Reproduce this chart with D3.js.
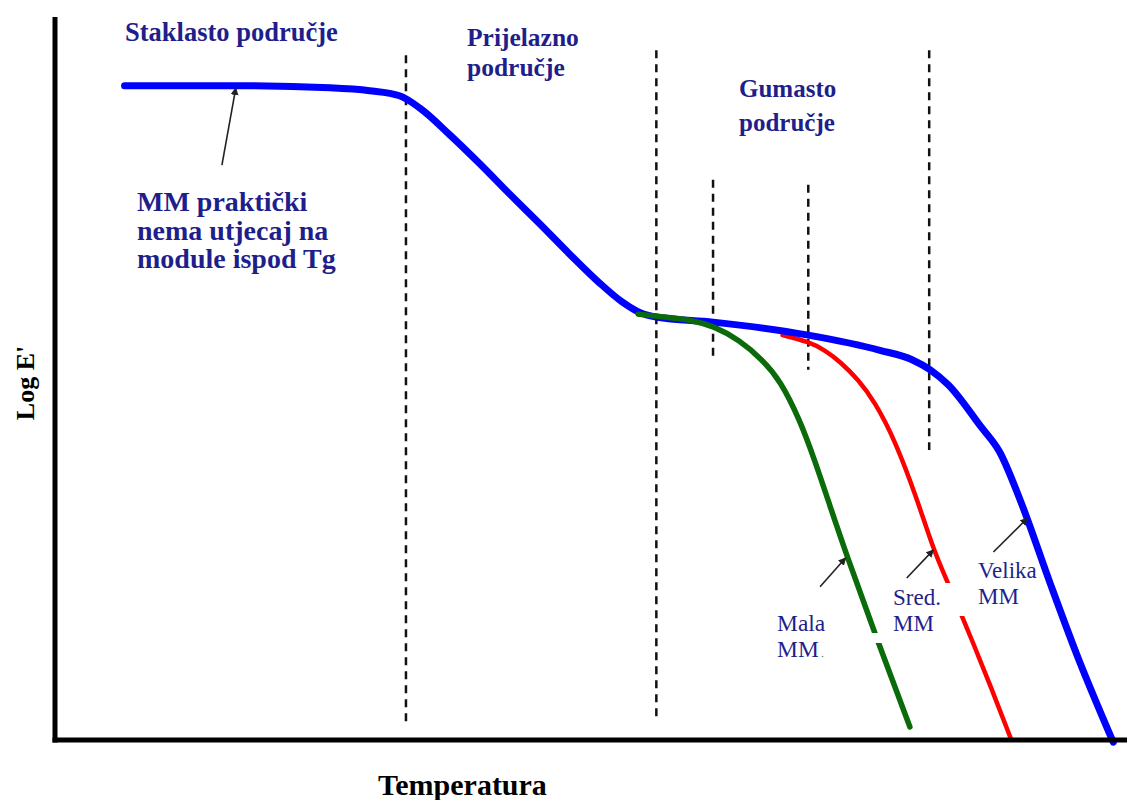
<!DOCTYPE html>
<html>
<head>
<meta charset="utf-8">
<script src="https://cdn.jsdelivr.net/npm/d3@7"></script>
<style>
  html, body { margin: 0; padding: 0; background: #fff; }
  svg { display: block; }
  text { font-family: "Liberation Serif", "Times New Roman", serif; }
</style>
</head>
<body>
<svg class="stage" width="1127" height="800"></svg>
<script>
(function () {
  // curves: [temperature, log E'] in arbitrary units 0..10
  var velikaMM = [
    [0.65, 9.05], [1.68, 9.05], [2.57, 9.02], [2.94, 8.98], [3.22, 8.91],
    [3.41, 8.74], [3.69, 8.37], [3.97, 7.97], [4.25, 7.55], [4.53, 7.14],
    [4.81, 6.72], [5.09, 6.32], [5.30, 6.06], [5.47, 5.91], [5.62, 5.85],
    [6.15, 5.78], [7.04, 5.60], [7.71, 5.39], [8.01, 5.26], [8.18, 5.12],
    [8.35, 4.91], [8.65, 4.34], [8.83, 3.98], [9.02, 3.32], [9.30, 2.17],
    [9.55, 1.18], [9.89, -0.03]
  ];
  var srednjaMM = [
    [6.80, 5.60], [7.04, 5.51], [7.20, 5.39], [7.34, 5.23], [7.51, 4.98],
    [7.66, 4.68], [7.85, 4.15], [8.06, 3.32], [8.21, 2.63], [8.34, 2.19],
    [8.46, 1.77], [8.57, 1.38], [8.74, 0.76], [8.93, 0.03]
  ];
  var malaMM = [
    [5.45, 5.89], [5.70, 5.85], [5.94, 5.81], [6.15, 5.73], [6.40, 5.53],
    [6.61, 5.26], [6.78, 4.97], [6.96, 4.43], [7.10, 3.87], [7.24, 3.25],
    [7.39, 2.59], [7.67, 1.44], [7.99, 0.18]
  ];

  // dashed region boundaries: temperature, top and bottom
  var boundaryT = [3.28, 5.62, 6.15, 7.04, 8.17];
  var boundaryTop = [9.47, 9.54, 7.75, 7.68, 9.54];
  var boundaryBottom = [0.25, 0.28, 5.23, 5.12, 4.01];

  var svg = d3.select('svg.stage');

  var x = d3.scaleLinear().domain([0, 10]).range([55, 1125]);
  var y = d3.scaleLinear().domain([0, 10]).range([740, 17]);

  var navy = '#1f1f8c';

  var line = d3.line()
    .x(function (d) { return x(d[0]); })
    .y(function (d) { return y(d[1]); })
    .curve(d3.curveMonotoneX);

  var smoothLine = d3.line()
    .x(function (d) { return x(d[0]); })
    .y(function (d) { return y(d[1]); })
    .curve(d3.curveBasis);

  // boundaries
  svg.append('g')
    .selectAll('line')
    .data(boundaryT)
    .enter().append('line')
    .attr('x1', function (d) { return x(d); })
    .attr('x2', function (d) { return x(d); })
    .attr('y1', function (d, i) { return y(boundaryTop[i]); })
    .attr('y2', function (d, i) { return y(boundaryBottom[i]); })
    .attr('stroke', '#111')
    .attr('stroke-width', 2.5)
    .attr('stroke-dasharray', '8,6');

  // curves (red under blue, green on top)
  svg.append('path')
    .datum(srednjaMM)
    .attr('d', smoothLine)
    .attr('fill', 'none')
    .attr('stroke', '#ff0000')
    .attr('stroke-width', 4.5)
    .attr('stroke-linecap', 'round');

  svg.append('path')
    .datum(velikaMM)
    .attr('d', line)
    .attr('fill', 'none')
    .attr('stroke', '#0000ff')
    .attr('stroke-width', 7)
    .attr('stroke-linecap', 'round')
    .attr('stroke-linejoin', 'round');

  svg.append('path')
    .datum(malaMM)
    .attr('d', smoothLine)
    .attr('fill', 'none')
    .attr('stroke', '#0b6b0b')
    .attr('stroke-width', 5.5)
    .attr('stroke-linecap', 'round');

  // white text boxes that cut the curves
  svg.append('rect').attr('x', 866).attr('y', 633).attr('width', 18).attr('height', 10).attr('fill', '#fff');
  svg.append('rect').attr('x', 940).attr('y', 583).attr('width', 34).attr('height', 33).attr('fill', '#fff');

  // axes
  svg.append('line')
    .attr('x1', x(0)).attr('x2', x(0))
    .attr('y1', y(10)).attr('y2', y(0) + 2.5)
    .attr('stroke', '#000').attr('stroke-width', 5);
  svg.append('line')
    .attr('x1', x(0) - 2.5).attr('x2', 1127)
    .attr('y1', y(0)).attr('y2', y(0))
    .attr('stroke', '#000').attr('stroke-width', 5);

  // arrows
  svg.append('defs').append('marker')
    .attr('id', 'head')
    .attr('viewBox', '0 0 10 10')
    .attr('refX', 9).attr('refY', 5)
    .attr('markerWidth', 8).attr('markerHeight', 8)
    .attr('markerUnits', 'userSpaceOnUse')
    .attr('orient', 'auto')
    .append('path')
    .attr('d', 'M0,0L10,5L0,10z')
    .attr('fill', '#222');

  var arrows = [
    [[1.56, 7.95], [1.69, 9.02]],
    [[7.15, 2.12], [7.39, 2.52]],
    [[7.96, 2.24], [8.21, 2.63]],
    [[8.77, 2.60], [9.09, 3.07]]
  ];
  svg.append('g')
    .selectAll('line')
    .data(arrows)
    .enter().append('line')
    .attr('x1', function (d) { return x(d[0][0]); })
    .attr('y1', function (d) { return y(d[0][1]); })
    .attr('x2', function (d) { return x(d[1][0]); })
    .attr('y2', function (d) { return y(d[1][1]); })
    .attr('stroke', '#222')
    .attr('stroke-width', 1.6)
    .attr('marker-end', 'url(#head)');

  // labels
  function label(lines, px, py, size, weight, color, lead) {
    var t = svg.append('text')
      .attr('x', px).attr('y', py)
      .attr('font-size', size)
      .attr('font-weight', weight)
      .attr('fill', color);
    lines.forEach(function (s, i) {
      t.append('tspan').attr('x', px).attr('dy', i ? lead : 0).text(s);
    });
    return t;
  }

  label(['Staklasto područje'], 125, 41, 26.5, 'bold', navy, 0);
  label(['Prijelazno', 'područje'], 467, 46, 25.5, 'bold', navy, 30);
  label(['Gumasto', 'područje'], 739, 97, 25, 'bold', navy, 34);
  label(['MM praktički', 'nema utjecaj na', 'module ispod Tg'], 137, 211, 28, 'bold', navy, 28.5);
  var mala = label(['Mala', 'MM'], 777, 631, 23.5, 'normal', navy, 26);
  mala.append('tspan').attr('fill', '#0b6b0b').attr('font-size', 10).text('  .');
  label(['Sred.', 'MM'], 893, 605, 23, 'normal', navy, 26);
  label(['Velika', 'MM'], 978, 578, 23, 'normal', navy, 26);

  svg.append('text')
    .attr('x', 378).attr('y', 795)
    .attr('font-size', 30)
    .attr('font-weight', 'bold')
    .attr('fill', '#000')
    .text('Temperatura');

  svg.append('text')
    .attr('transform', 'translate(34,383) rotate(-90)')
    .attr('text-anchor', 'middle')
    .attr('font-size', 26)
    .attr('font-weight', 'bold')
    .attr('fill', '#000')
    .text('Log E\'');
})();
</script>
</body>
</html>
